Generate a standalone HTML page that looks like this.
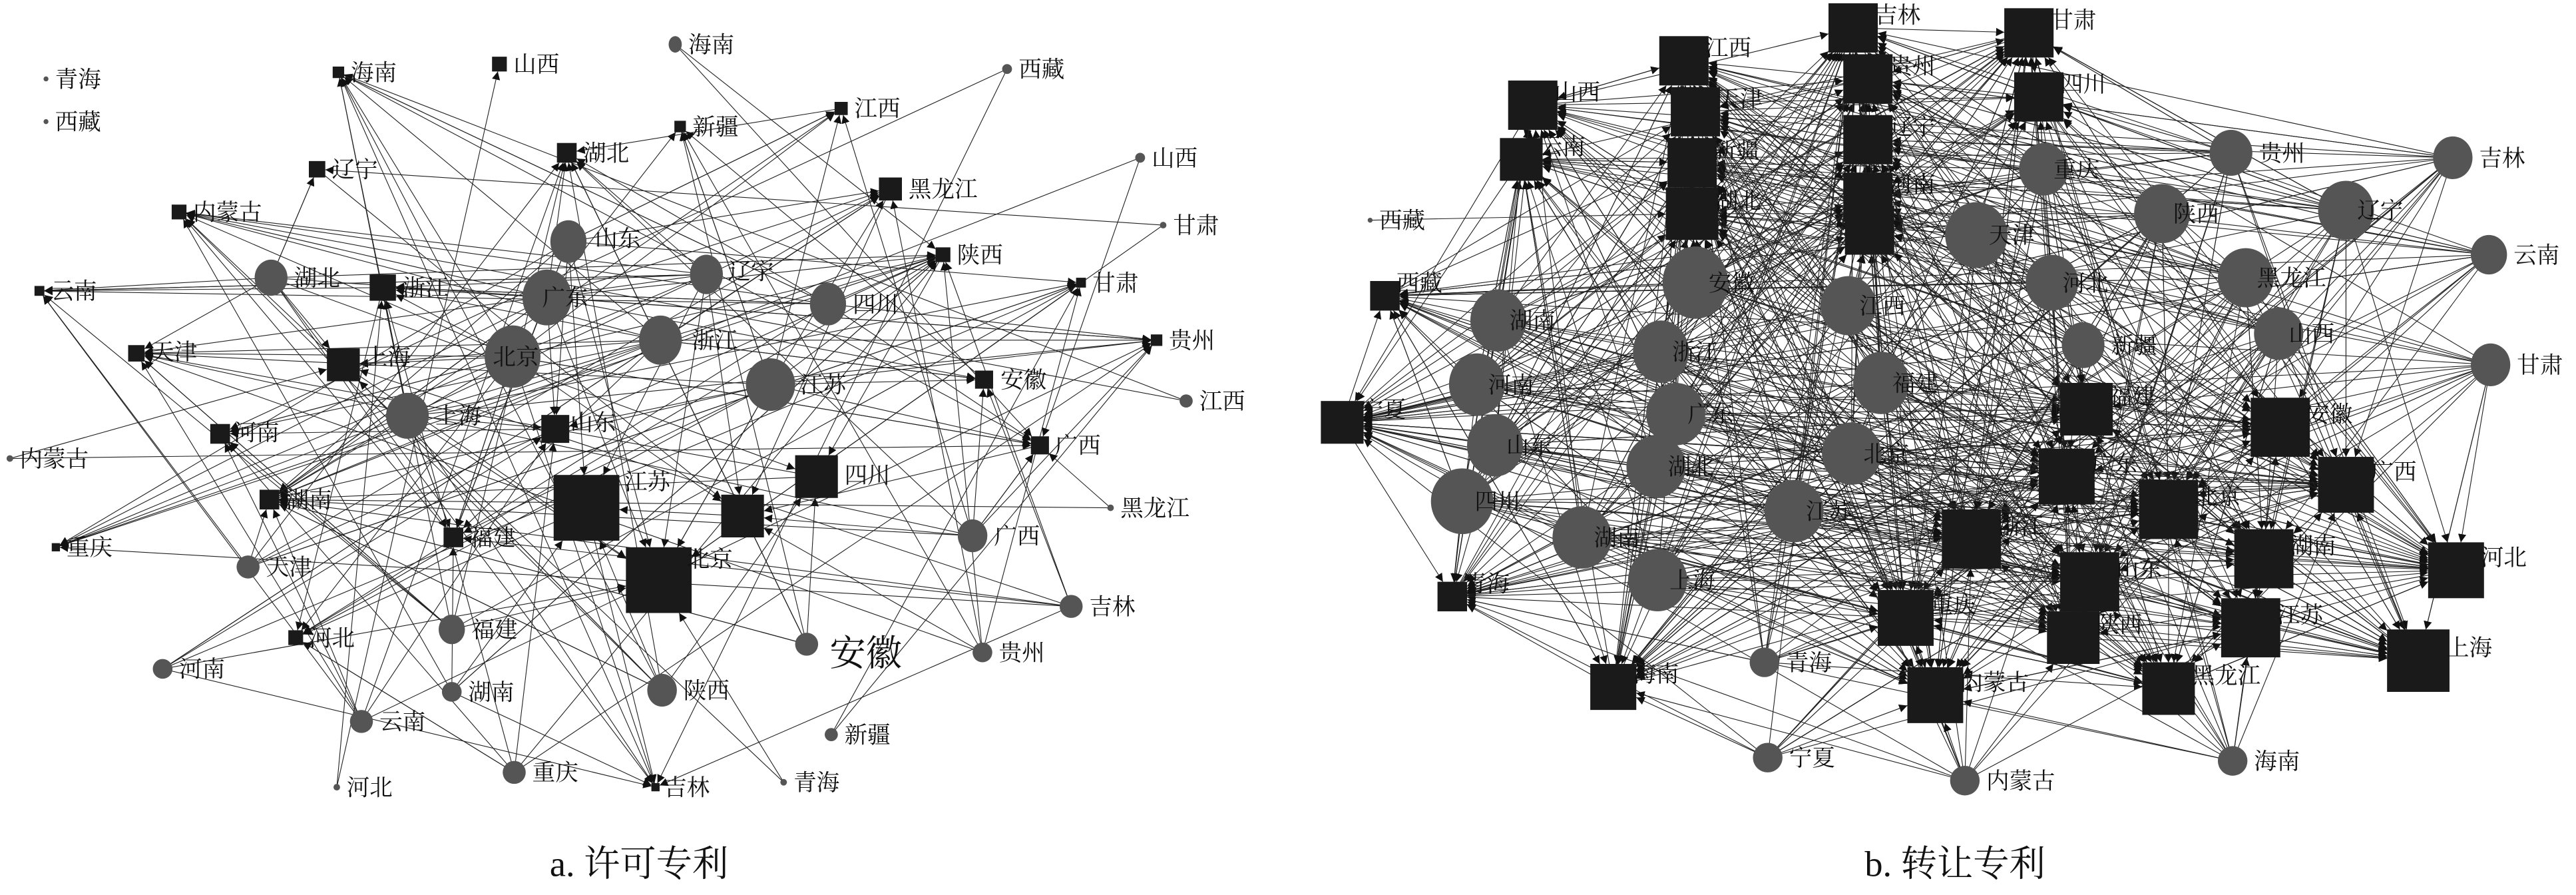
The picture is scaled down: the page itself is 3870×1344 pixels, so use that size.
<!DOCTYPE html>
<html><head><meta charset="utf-8">
<style>
html,body{margin:0;padding:0;background:#fff;}
svg{display:block;}
text{font-family:"Liberation Serif","Noto Serif CJK SC",serif;fill:#111;}
</style></head>
<body>
<svg id="s" width="3870" height="1344" viewBox="0 0 1568 544.6" preserveAspectRatio="none" xmlns="http://www.w3.org/2000/svg">
<defs>
<marker id="ar" viewBox="0 0 10 10" refX="10" refY="5" markerWidth="5" markerHeight="5" markerUnits="userSpaceOnUse" orient="auto">
<path d="M0,0 L10,5 L0,10 z" fill="#111"/>
</marker>
</defs>
<g id="edges" stroke="#222" stroke-width="0.45" fill="none"></g>
<g id="nodes"></g>
<text x="389" y="533" font-size="22" text-anchor="middle">a. 许可专利</text>
<text x="1190" y="533" font-size="22" text-anchor="middle">b. 转让专利</text>
</svg>
<script>
var NS="http://www.w3.org/2000/svg";
var E=document.getElementById("edges"),N=document.getElementById("nodes");
var seed=12345;function rnd(){seed=(seed*1103515245+12345)&0x7fffffff;return seed/0x7fffffff;}
function el(t,a,p){var e=document.createElementNS(NS,t);for(var k in a)e.setAttribute(k,a[k]);(p||N).appendChild(e);return e;}
function txt(x,y,s,fs){var t=el("text",{x:x,y:y,"font-size":fs||14});t.textContent=s;}
var LS=[["海南",206,44,7],["山西",304,39,9],["新疆",414,77,7],["湖北",345,93,12],["辽宁",193,103,10],["江西",512,66,8],["黑龙江",542,115,14],["内蒙古",109,129,9],["陕西",574,155,9],["甘肃",658,172,6],["云南",24,177,6],["浙江",233,175,16],["贵州",704,207,7],["天津",83,215,10],["上海",209,222,20],["安徽",599,231,11],["山东",338,261,17],["河南",134,264,12],["广西",633,271,11],["湖南",164,304,12],["江苏",357,309,40],["四川",497,290,26],["福建",276,327,12],["重庆",34,333,5],["北京",401,353,40],["",452,314,26],["河北",180,388,9],["吉林",399,479,5]];
var LSlab={"江苏":[380,298],"北京":[418,345],"四川":[514,294],"上海":[222,222],"安徽":[609,236],"山东":[347,262],"福建":[286,332],"湖南":[174,309],"河北":[188,393],"吉林":[404,484],"广西":[642,276],"河南":[142,268],"天津":[92,219],"浙江":[245,180]};
var LC=[["青海",28,48,1.5,1.5],["西藏",28,74,1.5,1.5],["海南",411,27,4,5],["西藏",613,42,3,3],["山西",694,96,3,3],["甘肃",708,137,2,2],["山东",346,147,11,13],["辽宁",430,167,10,12],["湖北",165,169,10,11],["广东",333,181,15,17],["四川",504,185,11,13],["浙江",402,207,13,15],["北京",312,217,17,19],["江苏",469,234,15,16],["上海",248,253,13,14],["江西",722,244,4,4],["内蒙古",6,279,2,2],["黑龙江",676,309,2,2],["广西",592,326,9,10],["天津",151,345,7,7],["吉林",652,369,7,7],["福建",275,383,8,9],["安徽",491,392,7,7],["贵州",598,397,6,6],["河南",99,407,6,6],["湖南",275,421,6,6],["陕西",403,420,9,10],["云南",220,439,7,7],["新疆",506,447,4,4],["重庆",313,470,7,7],["青海",477,476,2,2],["河北",205,479,2,2]];
var LClab={"安徽":[505,405,22],"北京":[300,222],"广东":[330,186],"浙江":[421,212],"江苏":[487,239],"山东":[362,150],"辽宁":[443,170]};
var RS=[["江西",1025,37,30],["吉林",1128,17,30],["甘肃",1235,20,30],["贵州",1137,48,30],["四川",1241,59,30],["山西",933,64,30],["天津",1032,68,30],["辽宁",1137,85,30],["云南",926,97,26],["新疆",1030,99,30],["河南",1137,120,30],["湖北",1030,130,32],["西藏",843,180,18],["宁夏",817,257,26],["青海",884,363,18],["海南",982,418,28],["福建",1270,249,32],["安徽",1388,260,36],["广西",1428,295,34],["广东",1258,290,34],["北京",1320,310,36],["浙江",1200,328,36],["湖南",1378,340,36],["河北",1495,347,34],["山东",1272,354,36],["重庆",1160,376,34],["陕西",1262,388,32],["江苏",1370,382,36],["上海",1472,402,38],["内蒙古",1178,423,34],["黑龙江",1320,419,32],["",1138,140,30]];
var RC=[["贵州",1358,93,13,14],["吉林",1493,96,12,13],["重庆",1244,103,15,16],["陕西",1316,130,17,18],["辽宁",1428,128,17,18],["云南",1515,155,11,12],["天津",1203,143,19,20],["河北",1249,172,16,17],["黑龙江",1367,169,17,18],["安徽",1032,172,20,22],["湖南",912,195,17,19],["江西",1125,186,17,18],["新疆",1268,210,13,14],["山西",1387,203,15,16],["甘肃",1516,222,12,13],["河南",899,234,17,19],["浙江",1011,214,17,19],["福建",1145,233,17,19],["广东",1020,252,18,19],["山东",910,271,17,19],["湖北",1008,284,18,19],["北京",1127,276,18,19],["四川",890,305,19,20],["江苏",1092,311,18,19],["湖南",963,327,18,19],["上海",1009,353,18,19],["青海",1074,403,9,9],["宁夏",1076,461,9,9],["内蒙古",1196,475,9,9],["海南",1359,463,9,9],["西藏",834,134,1.5,1.5]];
function line(x1,y1,x2,y2,h){var dx=x2-x1,dy=y2-y1;
 var t=Math.max(Math.abs(dx),Math.abs(dy));var s=h/(t||1);var ex=x2-dx*s,ey=y2-dy*s;
 el("line",{x1:x1,y1:y1,x2:ex.toFixed(1),y2:ey.toFixed(1),"marker-end":"url(#ar)"},E);}
LC.forEach(function(c){var n=Math.round(c[3]*1.0);if(c[3]<2)n=0;if(c[3]<5&&c[3]>=2)n=2;
 for(var i=0;i<n;i++){var s=LS[Math.floor(rnd()*LS.length)];line(c[1],c[2],s[1],s[2],s[3]/2);}});
for(var i=0;i<22;i++){var a=LS[Math.floor(rnd()*LS.length)],b=LS[Math.floor(rnd()*LS.length)];if(a!==b)line(a[1],a[2],b[1],b[2],b[3]/2);}
RC.forEach(function(c){var n=c[3]<2?1:Math.round(c[3]*1.6);
 for(var i=0;i<n;i++){var s=RS[Math.floor(rnd()*RS.length)];line(c[1],c[2],s[1],s[2],s[3]/2);}});
for(var i=0;i<220;i++){var a=RS[Math.floor(rnd()*RS.length)],b=RS[Math.floor(rnd()*RS.length)];if(a!==b)line(a[1],a[2],b[1],b[2],b[3]/2);}
LC.forEach(function(c){el("ellipse",{cx:c[1],cy:c[2],rx:c[3],ry:c[4],fill:"#555"});var l=LClab[c[0]];
 if(l)txt(l[0],l[1],c[0],l[2]||14);else txt(c[1]+c[3]+4,c[2]+5,c[0]);});
LS.forEach(function(s){el("rect",{x:s[1]-s[3]/2,y:s[2]-s[3]/2,width:s[3],height:s[3],fill:"#1a1a1a"});if(!s[0])return;
 var l=LSlab[s[0]];if(l)txt(l[0],l[1],s[0]);else txt(s[1]+s[3]/2+4,s[2]+5,s[0]);});
RC.forEach(function(c){el("ellipse",{cx:c[1],cy:c[2],rx:c[3],ry:c[4],fill:"#555"});
 if(c[3]>14)txt(c[1]+c[3]*0.4,c[2]+5,c[0]);else txt(c[1]+c[3]+4,c[2]+5,c[0]);});
RS.forEach(function(s){el("rect",{x:s[1]-s[3]/2,y:s[2]-s[3]/2,width:s[3],height:s[3],fill:"#1a1a1a"});if(s[0])txt(s[1]+s[3]/2-2,s[2]-3,s[0]);});
</script>
</body></html>
